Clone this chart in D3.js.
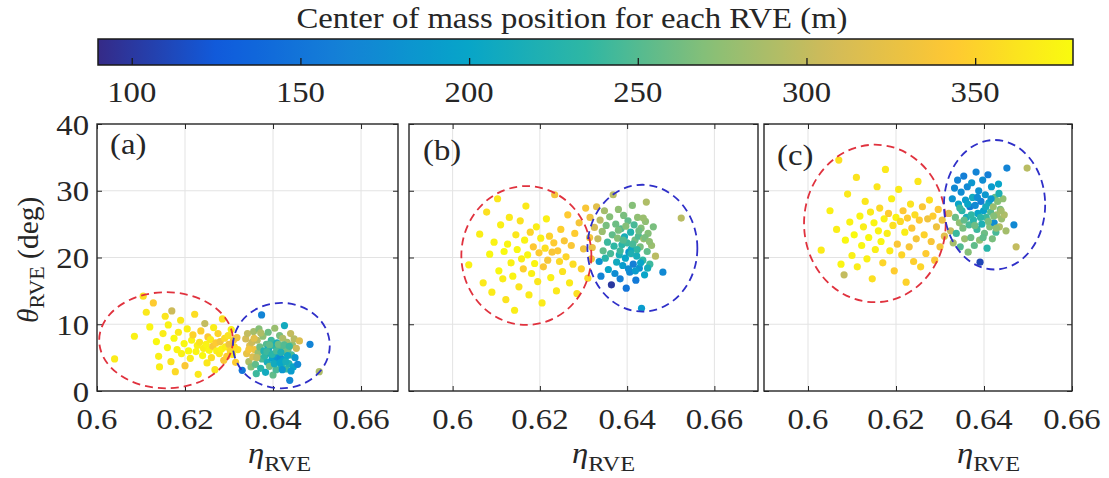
<!DOCTYPE html>
<html>
<head>
<meta charset="utf-8">
<script src="https://cdn.jsdelivr.net/npm/d3@7"></script>
<style>
  html, body { margin: 0; padding: 0; background: #fff; }
  svg { display: block; }
  text { font-family: "Liberation Serif", Tinos, "Times New Roman", Times, serif; fill: #262626; }
</style>
</head>
<body>
<svg id="chart" width="1109" height="478"></svg>
<script>
// ---- data: [eta_RVE, theta_RVE (deg), centre-of-mass position (m)] ----
const panelA = [
  [0.6040,4.8,368],[0.6085,8.2,372],[0.6105,14.2,360],[0.6112,11.8,366],[0.6120,9.6,375],
  [0.6128,13.2,345],[0.6135,7.4,377],[0.6140,5.2,371],[0.6142,3.6,370],[0.6150,8.6,369],
  [0.6155,11.2,364],[0.6160,6.5,376],[0.6162,9.9,373],[0.6168,4.4,362],[0.6170,12.0,305],
  [0.6175,7.9,378],[0.6178,2.9,355],[0.6182,6.2,374],[0.6185,8.8,367],[0.6190,10.6,366],
  [0.6192,5.6,372],[0.6198,7.1,376],[0.6200,3.8,340],[0.6205,9.3,371],[0.6208,6.0,378],
  [0.6212,4.9,369],[0.6215,7.6,374],[0.6218,8.4,350],[0.6222,11.5,358],[0.6225,5.9,375],
  [0.6228,6.8,372],[0.6230,2.5,366],[0.6233,7.3,362],[0.6236,9.0,348],[0.6240,5.3,377],
  [0.6242,6.4,370],[0.6245,10.1,300],[0.6248,7.0,373],[0.6250,4.2,365],[0.6252,8.1,341],
  [0.6255,6.1,376],[0.6258,7.7,368],[0.6260,5.0,358],[0.6263,6.7,338],[0.6265,9.5,370],
  [0.6268,3.2,364],[0.6270,7.2,344],[0.6272,6.0,372],[0.6275,8.6,352],[0.6278,5.6,367],
  [0.6280,7.4,335],[0.6283,6.3,374],[0.6285,10.8,360],[0.6288,4.6,340],[0.6290,7.9,356],
  [0.6292,6.6,369],[0.6295,5.2,345],[0.6298,8.3,362],[0.6300,7.0,330],[0.6303,6.0,350],
  [0.6305,9.2,372],[0.6308,5.5,365],[0.6310,7.6,340],[0.6312,6.6,356],[0.6315,4.3,346],
  [0.6318,8.0,332],[0.6320,6.2,360],
  [0.6330,3.1,150],[0.6338,7.8,310],[0.6340,5.6,325],[0.6342,8.6,300],[0.6345,4.4,290],
  [0.6347,6.8,320],[0.6350,3.6,270],[0.6352,7.3,305],[0.6354,5.1,315],[0.6356,8.9,285],
  [0.6358,6.2,330],[0.6360,4.0,255],[0.6362,2.6,240],[0.6364,7.6,295],[0.6366,5.7,280],
  [0.6368,9.3,270],[0.6370,6.6,260],[0.6372,3.4,230],[0.6374,11.4,165],[0.6375,4.8,245],
  [0.6377,8.2,275],[0.6379,6.0,225],[0.6381,5.2,235],[0.6383,2.8,210],[0.6385,7.0,250],
  [0.6387,4.3,215],[0.6389,8.8,260],[0.6390,6.4,205],[0.6392,3.7,265],[0.6394,5.6,220],
  [0.6396,7.6,240],[0.6398,4.9,200],[0.6400,2.4,255],[0.6402,6.8,230],[0.6404,9.4,280],
  [0.6405,5.3,190],[0.6407,3.2,245],[0.6409,7.2,215],[0.6411,4.5,180],[0.6413,6.1,235],
  [0.6415,8.3,265],[0.6417,5.0,175],[0.6419,3.9,220],[0.6420,6.6,250],[0.6422,7.9,290],
  [0.6424,4.6,195],[0.6426,9.8,210],[0.6428,5.8,270],[0.6430,3.3,240],[0.6432,7.3,285],
  [0.6434,6.2,260],[0.6436,4.1,225],[0.6438,1.6,170],[0.6440,8.6,300],[0.6442,5.4,245],
  [0.6444,6.9,275],[0.6446,3.6,200],[0.6448,7.8,295],[0.6450,5.0,185],[0.6453,6.4,305],
  [0.6456,4.0,170],[0.6460,7.5,315],[0.6484,7.0,165],[0.6505,2.9,290],
  [0.6386,5.9,240],[0.6392,6.9,255],[0.6398,5.5,230],[0.6403,4.1,210],[0.6408,6.0,245],
  [0.6412,7.0,260],[0.6416,4.2,200],[0.6418,5.8,220],[0.6421,3.2,185],[0.6425,6.9,250],
  [0.6429,4.4,215],[0.6433,5.3,205],[0.6437,6.7,240],[0.6441,3.0,190],[0.6345,6.2,335],
  [0.6357,7.9,320],[0.6363,5.0,300],[0.6372,8.7,290]
];

const panelB = [
  [0.6037,18.9,372],[0.6062,23.5,370],[0.6070,16.2,366],[0.6078,26.8,360],[0.6085,20.5,376],
  [0.6090,14.8,368],[0.6095,22.3,373],[0.6103,28.8,365],[0.6106,18.0,377],[0.6110,24.9,371],
  [0.6115,16.8,369],[0.6118,20.9,378],[0.6122,13.7,362],[0.6126,22.0,375],[0.6130,26.0,367],
  [0.6134,19.2,372],[0.6138,17.2,374],[0.6142,12.1,370],[0.6145,23.4,365],[0.6148,21.2,377],
  [0.6152,15.6,363],[0.6155,25.5,361],[0.6158,19.8,370],[0.6162,18.3,348],[0.6165,22.6,374],
  [0.6168,27.7,366],[0.6172,20.4,376],[0.6175,14.4,368],[0.6178,23.8,352],[0.6181,17.6,372],
  [0.6185,21.6,343],[0.6188,19.1,375],[0.6192,24.6,370],[0.6195,16.4,365],[0.6198,20.7,346],
  [0.6202,22.9,372],[0.6205,13.2,368],[0.6208,18.6,340],[0.6212,21.4,360],[0.6215,25.8,371],
  [0.6218,19.6,336],[0.6222,23.2,350],[0.6225,17.0,372],[0.6228,20.8,338],[0.6232,22.2,345],
  [0.6234,29.4,335],[0.6238,15.0,366],[0.6241,21.0,342],[0.6245,19.4,355],[0.6248,24.2,348],
  [0.6252,17.9,362],[0.6256,22.5,339],[0.6260,20.1,352],[0.6264,26.4,344],[0.6268,16.2,368],
  [0.6272,21.8,340],[0.6276,19.0,358],[0.6280,23.6,346],[0.6285,14.6,360],[0.6290,25.2,336],
  [0.6295,18.3,350],[0.6300,21.3,330],[0.6305,27.4,338],[0.6310,16.9,355],[0.6314,23.0,335],
  [0.6318,19.8,332],
  [0.6315,26.0,330],[0.6320,21.5,325],[0.6325,24.5,310],[0.6330,27.6,320],[0.6333,22.8,300],
  [0.6336,19.4,180],[0.6338,25.6,295],[0.6340,17.2,165],[0.6343,23.9,280],[0.6345,21.0,255],
  [0.6348,27.0,285],[0.6350,19.9,230],[0.6352,24.8,265],[0.6355,22.3,240],[0.6357,18.2,200],
  [0.6360,26.1,270],[0.6362,20.6,245],[0.6364,15.9,100],[0.6366,23.4,255],[0.6368,29.4,295],
  [0.6370,21.7,235],[0.6372,17.6,175],[0.6374,25.0,260],[0.6376,19.3,210],[0.6378,22.9,270],
  [0.6380,27.2,275],[0.6382,20.4,220],[0.6384,16.8,160],[0.6386,24.3,250],[0.6388,21.9,230],
  [0.6390,18.8,190],[0.6392,26.3,265],[0.6394,23.1,215],[0.6396,19.9,200],[0.6398,15.4,150],
  [0.6400,22.2,240],[0.6402,25.5,255],[0.6404,20.8,185],[0.6406,17.8,170],[0.6408,23.8,225],
  [0.6410,21.3,205],[0.6412,27.8,270],[0.6414,19.0,160],[0.6416,24.9,245],[0.6418,22.6,260],
  [0.6420,16.6,155],[0.6422,20.2,215],[0.6424,26.0,275],[0.6426,23.2,250],[0.6428,18.4,180],
  [0.6430,21.6,265],[0.6432,24.4,270],[0.6433,12.4,190],[0.6436,19.6,235],[0.6438,22.8,280],
  [0.6440,17.4,200],[0.6442,25.4,275],[0.6444,28.3,290],[0.6446,20.9,255],[0.6448,23.6,270],
  [0.6452,19.0,240],[0.6456,21.8,280],[0.6460,24.6,265],[0.6465,20.2,295],[0.6482,17.8,170],
  [0.6524,25.9,295],
  [0.6380,24.1,265],[0.6384,21.0,240],[0.6391,22.6,250],[0.6397,24.7,270],[0.6403,18.3,175],
  [0.6409,20.6,220],[0.6413,22.0,245],[0.6419,18.0,190],[0.6423,21.2,235],[0.6427,24.0,260],
  [0.6431,19.2,200],[0.6437,25.9,280],[0.6441,23.0,265],[0.6447,18.4,215],[0.6451,22.4,275]
];

const panelC = [
  [0.6030,21.1,368],[0.6050,27.0,372],[0.6065,24.2,370],[0.6070,34.6,360],[0.6075,19.0,375],
  [0.6082,17.4,300],[0.6085,22.6,377],[0.6090,29.5,366],[0.6095,25.3,373],[0.6100,20.3,371],
  [0.6105,23.4,378],[0.6110,32.0,362],[0.6112,18.6,369],[0.6118,26.2,374],[0.6122,21.8,376],
  [0.6126,24.6,370],[0.6130,28.4,365],[0.6134,19.8,372],[0.6138,23.0,377],[0.6142,26.8,368],
  [0.6146,16.8,360],[0.6150,25.2,375],[0.6153,21.2,371],[0.6157,30.6,364],[0.6160,24.0,374],
  [0.6163,27.4,355],[0.6166,22.4,376],[0.6170,19.2,352],[0.6173,25.8,372],[0.6176,33.2,366],
  [0.6180,23.6,370],[0.6183,26.6,345],[0.6186,21.0,368],[0.6190,28.8,372],[0.6193,24.8,360],
  [0.6196,18.0,346],[0.6200,26.0,374],[0.6203,22.0,340],[0.6206,30.2,368],[0.6210,25.4,356],
  [0.6213,20.4,352],[0.6216,27.0,342],[0.6220,23.8,370],[0.6223,16.3,350],[0.6226,25.9,345],
  [0.6230,21.6,338],[0.6233,28.0,362],[0.6236,24.4,341],[0.6240,19.4,348],[0.6243,26.4,358],
  [0.6246,22.8,336],[0.6250,31.4,365],[0.6253,25.6,344],[0.6256,18.6,352],[0.6260,27.6,340],
  [0.6264,23.4,350],[0.6268,20.6,345],[0.6272,25.8,332],[0.6276,28.6,360],[0.6280,22.4,338],
  [0.6284,26.2,346],[0.6288,19.6,340],[0.6292,24.6,330],[0.6296,27.2,342],[0.6300,21.6,336],
  [0.6305,25.6,328],[0.6310,23.2,320],
  [0.6320,26.6,315],[0.6324,24.0,300],[0.6328,28.8,180],[0.6330,22.2,285],[0.6333,30.4,170],
  [0.6335,26.0,260],[0.6337,23.6,240],[0.6340,31.6,165],[0.6342,28.0,200],[0.6344,25.2,275],
  [0.6346,21.6,250],[0.6348,29.8,175],[0.6350,27.0,230],[0.6352,24.4,265],[0.6354,32.2,160],
  [0.6356,22.8,280],[0.6358,28.6,190],[0.6360,26.0,215],[0.6362,30.6,170],[0.6364,20.8,270],
  [0.6366,24.9,245],[0.6368,27.6,155],[0.6370,23.0,260],[0.6372,31.2,185],[0.6374,29.0,210],
  [0.6376,25.6,230],[0.6378,21.8,255],[0.6380,27.8,170],[0.6382,32.8,165],[0.6384,24.2,240],
  [0.6386,26.6,200],[0.6388,30.0,180],[0.6390,22.6,275],[0.6391,19.3,110],[0.6393,28.4,160],
  [0.6395,25.0,220],[0.6397,31.6,175],[0.6399,27.0,195],[0.6401,23.6,260],[0.6403,29.4,185],
  [0.6405,26.0,240],[0.6407,21.4,230],[0.6409,32.4,160],[0.6411,28.2,205],[0.6413,24.6,270],
  [0.6415,26.8,250],[0.6417,30.6,190],[0.6419,22.8,265],[0.6421,27.6,280],[0.6423,25.2,175],
  [0.6425,29.0,255],[0.6427,23.8,245],[0.6429,26.4,285],[0.6431,28.4,270],[0.6433,31.0,200],
  [0.6435,24.6,290],[0.6437,27.2,265],[0.6440,25.8,280],[0.6443,28.8,275],[0.6446,26.4,290],
  [0.6450,24.0,285],[0.6452,33.4,165],[0.6468,24.9,170],[0.6473,21.6,300],[0.6498,33.4,295],
  [0.6345,27.4,240],[0.6355,25.6,255],[0.6363,28.0,200],[0.6371,26.4,235],[0.6379,24.8,260],
  [0.6385,29.0,175],[0.6392,26.0,230],[0.6398,23.0,255],[0.6404,27.6,210],[0.6410,25.4,265],
  [0.6416,28.8,185],[0.6422,26.2,270],[0.6428,24.4,275],[0.6434,29.6,220],[0.6439,27.0,285]
];

// cluster outlines per panel: [centre eta, centre theta, half-width eta, half-height theta]
const redEllipses  = [[0.6157, 7.6, 0.0152, 7.2], [0.6169, 20.3, 0.0149, 10.4], [0.6152, 25.1, 0.0161, 11.8]];
const blueEllipses = [[0.6419, 6.8, 0.0110, 6.4], [0.6435, 21.4, 0.0126, 9.5], [0.6424, 27.9, 0.0115, 9.7]];

const panelTags = ["(a)", "(b)", "(c)"];
const xTicks = [0.6, 0.62, 0.64, 0.66];
const xTickLabels = ["0.6", "0.62", "0.64", "0.66"];
const yTicks = [0, 10, 20, 30, 40];
const yTickLabels = ["0", "10", "20", "30", "40"];
const xDomains = [[0.6, 0.6684], [0.59, 0.67], [0.59, 0.66]];
const yDomain = [0, 40];
const colorDomain = [90, 379];
const colorTicks = [100, 150, 200, 250, 300, 350];
const colorTickLabels = ["100", "150", "200", "250", "300", "350"];
const colorTitle = "Center of mass position for each RVE (m)";

// parula colour map
const parula = ["#352a87", "#0f5cdd", "#1481d6", "#06a4ca", "#2eb7a4",
                "#87bf77", "#d1bb59", "#fec832", "#f9fb0e"];

// ---- layout ----
const FS = 29.5, SX = 1.11;
const panelBox = [
  { left: 97,  right: 398 },
  { left: 409, right: 758 },
  { left: 764, right: 1072 }
];
const plotTop = 124, plotBottom = 391;
const tagPos = [[110, 154], [423, 160], [777, 165]];
const xLabelStart = [248, 572, 957];

const svg = d3.select("#chart");

const color = d3.scaleLinear()
  .domain(parula.map((_, i) => colorDomain[0] + i * (colorDomain[1] - colorDomain[0]) / (parula.length - 1)))
  .range(parula)
  .interpolate(d3.interpolateRgb)
  .clamp(true);

function stretchedText(sel, x, y, str, anchor) {
  return sel.append("text")
    .attr("transform", `translate(${x},${y}) scale(${SX},1)`)
    .attr("text-anchor", anchor || "middle")
    .style("font-size", FS + "px")
    .text(str);
}

// ---- colour bar ----
const cbLeft = 98, cbRight = 1073, cbTop = 39, cbBottom = 65;
const cbScale = d3.scaleLinear().domain(colorDomain).range([cbLeft, cbRight]);
const grad = svg.append("defs").append("linearGradient")
  .attr("id", "cbGrad").attr("x1", "0%").attr("x2", "100%").attr("y1", "0%").attr("y2", "0%");
d3.range(0, 1.0001, 0.02).forEach(t => {
  const v = colorDomain[0] + t * (colorDomain[1] - colorDomain[0]);
  grad.append("stop").attr("offset", (t * 100) + "%").attr("stop-color", color(v));
});
svg.append("rect")
  .attr("x", cbLeft).attr("y", cbTop)
  .attr("width", cbRight - cbLeft).attr("height", cbBottom - cbTop)
  .attr("fill", "url(#cbGrad)")
  .attr("stroke", "#1a1a1a").attr("stroke-width", 1.5);
const cbAxis = d3.axisBottom(cbScale).tickValues(colorTicks).tickSizeInner(-7).tickSizeOuter(0).tickFormat("");
const cbAxisG = svg.append("g").attr("transform", `translate(0,${cbBottom})`).call(cbAxis);
cbAxisG.select(".domain").remove();
cbAxisG.selectAll(".tick line").attr("stroke", "#1a1a1a").attr("stroke-width", 1.3);
colorTicks.forEach((v, i) => stretchedText(svg, cbScale(v), 102, colorTickLabels[i]));
stretchedText(svg, 572, 28, colorTitle);

// ---- panels ----
const panels = [panelA, panelB, panelC];
panels.forEach((data, p) => {
  const box = panelBox[p];
  const x = d3.scaleLinear().domain(xDomains[p]).range([box.left, box.right]);
  const y = d3.scaleLinear().domain(yDomain).range([plotBottom, plotTop]);
  const g = svg.append("g");

  // grid
  g.append("g").selectAll("line").data(xTicks.filter(t => x(t) > box.left + 1 && x(t) < box.right - 1))
    .join("line")
    .attr("x1", d => x(d)).attr("x2", d => x(d))
    .attr("y1", plotTop).attr("y2", plotBottom)
    .attr("stroke", "#e3e3e3").attr("stroke-width", 1);
  g.append("g").selectAll("line").data(yTicks.filter(t => t > yDomain[0] && t < yDomain[1]))
    .join("line")
    .attr("x1", box.left).attr("x2", box.right)
    .attr("y1", d => y(d)).attr("y2", d => y(d))
    .attr("stroke", "#e3e3e3").attr("stroke-width", 1);

  // inward tick marks on all four sides
  const tk = 5;
  const axes = [
    [d3.axisBottom(x).tickValues(xTicks), `translate(0,${plotBottom})`],
    [d3.axisTop(x).tickValues(xTicks), `translate(0,${plotTop})`],
    [d3.axisLeft(y).tickValues(yTicks), `translate(${box.left},0)`],
    [d3.axisRight(y).tickValues(yTicks), `translate(${box.right},0)`]
  ];
  axes.forEach(([ax, tr]) => {
    const ag = g.append("g").attr("transform", tr)
      .call(ax.tickSizeInner(-tk).tickSizeOuter(0).tickFormat(""));
    ag.select(".domain").remove();
    ag.selectAll(".tick line").attr("stroke", "#262626").attr("stroke-width", 1);
  });

  // points
  const clipId = "clip" + p;
  svg.append("clipPath").attr("id", clipId).append("rect")
    .attr("x", box.left).attr("y", plotTop)
    .attr("width", box.right - box.left).attr("height", plotBottom - plotTop);
  g.append("g").attr("clip-path", `url(#${clipId})`)
    .selectAll("circle").data(data).join("circle")
    .attr("cx", d => x(d[0])).attr("cy", d => y(d[1]))
    .attr("r", 3.6)
    .attr("fill", d => color(d[2]));

  // cluster ellipses
  const drawEllipse = (e, stroke) => {
    g.append("ellipse")
      .attr("cx", x(e[0])).attr("cy", y(e[1]))
      .attr("rx", x(e[0] + e[2]) - x(e[0]))
      .attr("ry", y(e[1]) - y(e[1] + e[3]))
      .attr("fill", "none")
      .attr("stroke", stroke).attr("stroke-width", 1.8)
      .attr("stroke-dasharray", "8,5");
  };
  drawEllipse(redEllipses[p], "#e0323e");
  drawEllipse(blueEllipses[p], "#2f2fc8");

  // frame
  g.append("rect")
    .attr("x", box.left).attr("y", plotTop)
    .attr("width", box.right - box.left).attr("height", plotBottom - plotTop)
    .attr("fill", "none").attr("stroke", "#262626").attr("stroke-width", 1.4);

  // x tick labels
  xTicks.forEach((t, i) => stretchedText(g, x(t), 429, xTickLabels[i]));

  // x axis title  eta_RVE
  const xl = g.append("text")
    .attr("transform", `translate(${xLabelStart[p]},463) scale(${SX},1)`)
    .attr("text-anchor", "start");
  xl.append("tspan").style("font-size", FS + "px").style("font-style", "italic").text("η");
  xl.append("tspan").style("font-size", "22px").attr("dy", 8).text("RVE");

  // panel tag
  stretchedText(g, tagPos[p][0], tagPos[p][1], panelTags[p], "start");

  // y tick labels only on the first panel
  if (p === 0) {
    yTicks.forEach((t, i) => stretchedText(g, 89, y(t) + 10.5, yTickLabels[i], "end"));
    const yl = g.append("text")
      .attr("transform", `translate(38,323) rotate(-90)`)
      .attr("text-anchor", "start");
    yl.append("tspan").style("font-size", FS + "px").style("font-style", "italic").text("θ");
    yl.append("tspan").style("font-size", "22px").attr("dy", 6).text("RVE");
    yl.append("tspan").style("font-size", FS + "px").attr("dy", -6).text(" (deg)");
  }
});
</script>
</body>
</html>
